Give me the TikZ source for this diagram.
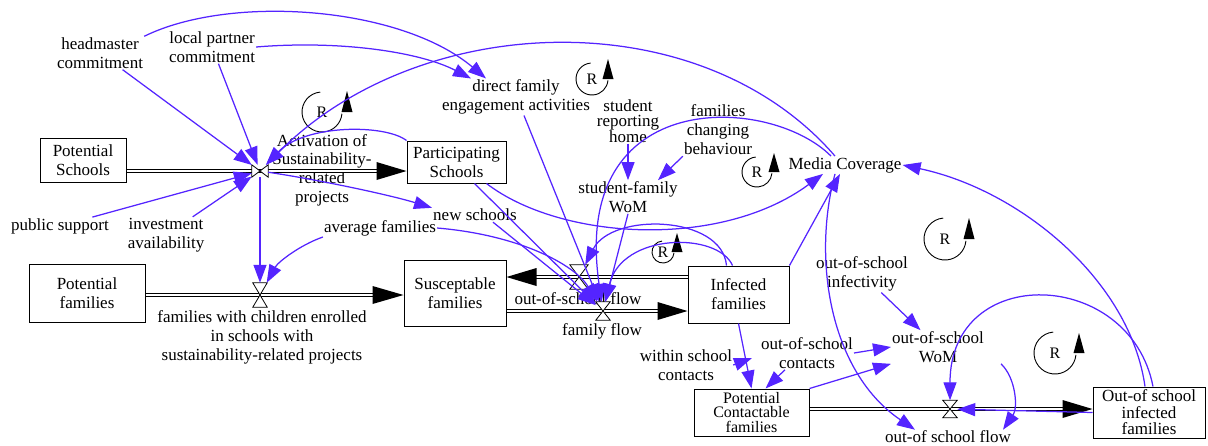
\documentclass[tikz,border=0pt]{standalone}
\usepackage{fontspec}
\setmainfont{Liberation Serif}
\usetikzlibrary{arrows.meta,calc}
\definecolor{lk}{RGB}{84,36,255}
\begin{document}
\begin{tikzpicture}[x=1pt,y=-1pt,
  every node/.style={font=\fontsize{17}{19}\selectfont, align=center, inner sep=1pt},
  stock/.style={draw, line width=1pt, inner sep=0pt},
  link/.style={draw=lk, line width=1.25pt, -{Triangle[length=18pt,width=13pt]}},
  pipe/.style={double, double distance=2.6pt, line width=0.9pt},
  valvebox/.style={inner sep=0pt},
  valveshape/.style={fill=white, line width=0.8pt},
  loopc/.style={line width=0.9pt}
]
\useasboundingbox (0,0) rectangle (1208,445);

% stocks
\node[stock, minimum width=86pt, minimum height=44pt] (PS) at (83,160) {Potential\\Schools};
\node[stock, minimum width=99pt, minimum height=42pt] (PartS) at (456.5,162) {Participating\\Schools};
\node[stock, minimum width=116pt, minimum height=58pt] (PF) at (87,293) {Potential\\families};
\node[stock, minimum width=102pt, minimum height=66pt] (SF) at (455,293) {Susceptable\\families};
\node[stock, minimum width=101pt, minimum height=57pt] (IF) at (738.5,294.5) {Infected\\families};
\node[stock, minimum width=115pt, minimum height=47pt, font=\fontsize{16}{14.5}\selectfont] (PCF) at (751.5,412.5) {Potential\\Contactable\\families};
\node[stock, minimum width=112pt, minimum height=51pt, font=\fontsize{17}{16.5}\selectfont] (OSI) at (1149,412.5) {Out-of school\\infected\\families};

% variables
\node (hm) at (100,53) {headmaster\\commitment};
\node (lp) at (212,47) {local partner\\commitment};
\node (pub) at (60,226) {public support};
\node (inv) at (166,235) {investment\\availability};
\node[font=\fontsize{17}{18.7}\selectfont] (act) at (322,170) {Activation of\\Sustainability-\\related\\projects};
\node (dfe) at (516,97) {direct family\\engagement activities};
\node[font=\fontsize{17}{15.5}\selectfont] (srh) at (628,121) {student\\reporting\\home};
\node (fcb) at (718,130) {families\\changing\\behaviour};
\node (sfw) at (628,197) {student-family\\WoM};
\node (mc) at (845,165) {Media Coverage};
\node (ns) at (475,215) {new schools};
\node (avg) at (380,228) {average families};
\node (fwc) at (262,337) {families with children enrolled\\in schools with\\sustainability-related projects};
\node (osfl) at (578,299) {out-of-school flow};
\node (ffl) at (602,331) {family flow};
\node (wsc) at (686,365) {within school\\contacts};
\node (osc) at (807,353) {out-of-school\\contacts};
\node (osinf) at (862,274) {out-of-school\\infectivity};
\node (osw) at (938,347) {out-of-school\\WoM};
\node (osf2) at (948,437) {out-of school flow};
\coordinate (wsct) at (752,358);

% valves (placeholders)
\node[valvebox, minimum width=16pt, minimum height=12pt] (a1) at (260,171) {};
\node[valvebox, minimum width=14pt, minimum height=24pt] (f1) at (260,295) {};
\node[valvebox, minimum width=18pt, minimum height=24pt] (v2) at (579,277) {};
\node[valvebox, minimum width=14pt, minimum height=18pt] (v3) at (603,311) {};
\node[valvebox, minimum width=14pt, minimum height=17pt] (v4) at (950,409) {};

% pipes
\draw[pipe] (PS.east |- a1) -- (a1.center);
\draw[pipe] (a1.center) -- ($(PartS.west |- a1)+(-28,0)$);
\fill ($(PartS.west |- a1)+(-30,-9)$) -- (PartS.west |- a1) -- ($(PartS.west |- a1)+(-30,9)$) -- cycle;

\draw[pipe] (PF.east |- f1) -- (f1.center);
\draw[pipe] (f1.center) -- ($(SF.west |- f1)+(-28,0)$);
\fill ($(SF.west |- f1)+(-31,-9)$) -- (SF.west |- f1) -- ($(SF.west |- f1)+(-31,9)$) -- cycle;

\draw[pipe] (IF.west |- v2) -- (v2.center);
\draw[pipe] (v2.center) -- ($(SF.east |- v2)+(28,0)$);
\fill ($(SF.east |- v2)+(30,-9)$) -- (SF.east |- v2) -- ($(SF.east |- v2)+(30,9)$) -- cycle;

\draw[pipe] (SF.east |- v3) -- (v3.center);
\draw[pipe] (v3.center) -- ($(IF.west |- v3)+(-28,0)$);
\fill ($(IF.west |- v3)+(-30,-9)$) -- (IF.west |- v3) -- ($(IF.west |- v3)+(-30,9)$) -- cycle;

\draw[pipe] (PCF.east |- v4) -- (v4.center);
\draw[pipe] (v4.center) -- ($(OSI.west |- v4)+(-28,0)$);
\fill ($(OSI.west |- v4)+(-30,-9)$) -- (OSI.west |- v4) -- ($(OSI.west |- v4)+(-30,9)$) -- cycle;

% valve shapes
\draw[valveshape] (a1.north west) -- (a1.south west) -- (a1.north east) -- (a1.south east) -- cycle;
\foreach \v in {f1,v2,v3,v4}{
  \draw[valveshape] (\v.north west) -- (\v.north east) -- (\v.south west) -- (\v.south east) -- cycle;
}

% loop markers
\foreach \cx/\cy/\r/\ax/\at in {322/112/20/347/91, 592/79/16/608/59, 757/172/15/774/153, 663/252/11/677/233, 945/239/21/969/218, 1055/353/21/1079/333}{
  \draw[loopc] (\cx,\cy) ++(265:\r) arc[start angle=265, end angle=5, radius=\r];
  \fill (\ax-5.5,\cy) -- (\ax,\at) -- (\ax+5.5,\cy) -- cycle;
  \node[font=\fontsize{16}{16}\selectfont, inner sep=0pt] at (\cx,\cy) {R};
}

% links into activation valve
\draw[link] (hm) -- (a1);
\draw[link] (lp) -- (a1);
\draw[link] (pub) -- (a1);
\draw[link] (inv) -- (a1);
\draw[link] ([xshift=-10pt]mc.north) .. controls (700,0) and (420,10) .. (a1);
\draw[link] (PartS.north west) .. controls (385,124) and (305,124) .. (a1);

% links to direct family engagement
\draw[link] (hm.north east) .. controls (230,-6) and (400,6) .. ([xshift=-30pt]dfe.north);
\draw[link] (lp.east) .. controls (340,40) and (420,52) .. ([xshift=-45pt]dfe.north);

% activation outputs
\draw[link] (a1) .. controls (320,180) and (390,195) .. (ns.north west);
\draw[link] (a1) -- (f1);
\draw[link] (avg.south west) .. controls (300,245) and (278,262) .. (f1);

% into family flow
\draw[link] ([xshift=18pt]ns.south) -- (v3);
\draw[link] ([xshift=18pt]PartS.south) -- (v3);
\draw[link] (avg.east) .. controls (520,235) and (575,265) .. (v3);
\draw[link] ([xshift=8pt]dfe.south) -- (v3);
\draw[link] (sfw.south) -- (v3);
\draw[link] ([xshift=-14pt]mc.north) .. controls (770,95) and (570,85) .. (v3);
\draw[link] ([xshift=-12pt]IF.north) .. controls (722,215) and (612,212) .. (v2);
\draw[link] ([xshift=-6pt]IF.north) .. controls (718,232) and (622,232) .. (v3);

% student-family WoM
\draw[link] (srh) -- (sfw);
\draw[link] (fcb.south west) -- ([xshift=30pt]sfw.north);

% media coverage
\draw[link] ([xshift=30pt]PartS.south) .. controls (560,240) and (720,250) .. ([xshift=-22pt]mc.south);
\draw[link] (IF.north east) -- ([xshift=-5pt]mc.south);
\draw[link] ([xshift=-10pt]mc.south) .. controls (812,260) and (830,372) .. ([xshift=-33pt]osf2.north);
\draw[link] ([xshift=-4pt]OSI.north) .. controls (1130,280) and (1020,190) .. (mc.east);

% out-of-school part
\draw[link] ([xshift=4pt]OSI.north) .. controls (1130,268) and (950,262) .. (v4);
\draw[link] (OSI.west) -- (v4);
\draw[link] ([xshift=16pt]osw.south east) .. controls (1016,378) and (1018,408) .. ([xshift=55pt]osf2.north);
\draw[link] (osinf) -- (osw);
\draw[link] (osc.east) -- (osw.west);
\draw[link] (PCF.north east) -- (osw.south west);
\draw[link] ([xshift=-22pt]osc.south) -- ([xshift=14pt]PCF.north);
\draw[link] (IF.south) -- (PCF.north);
\draw[link] (wsc.east) -- (wsct);
\end{tikzpicture}
\end{document}
